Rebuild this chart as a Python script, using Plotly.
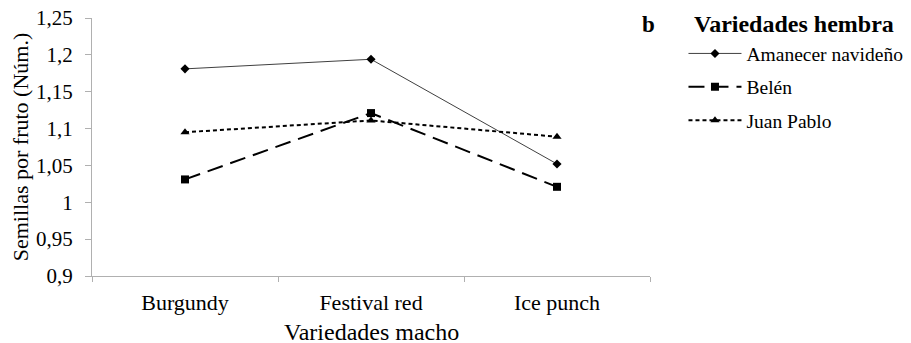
import plotly.graph_objects as go

categories = ["Burgundy", "Festival red", "Ice punch"]
amanecer = [1.181, 1.194, 1.052]
belen = [1.031, 1.121, 1.021]
juan_pablo = [1.095, 1.111, 1.089]
y_ticks = [0.9, 0.95, 1.0, 1.05, 1.1, 1.15, 1.2, 1.25]
y_tick_labels = ["0,9", "0,95", "1", "1,05", "1,1", "1,15", "1,2", "1,25"]

FONT = "Liberation Serif"
# the page body adds an 8px margin, so the figure is drawn 8px smaller and offset
W, H = 903, 335

fig = go.Figure()
fig.add_trace(go.Scatter(
    x=categories, y=amanecer, name="Amanecer navideño", mode="lines+markers",
    line=dict(color="#404040", width=1),
    marker=dict(symbol="diamond", size=7, color="black"),
    legendgroup="a"))
fig.add_trace(go.Scatter(
    x=categories, y=belen, name="Belén", mode="lines+markers",
    line=dict(color="black", width=2, dash="16px,8px"),
    marker=dict(symbol="square", size=8, color="black"),
    legendgroup="b"))
fig.add_trace(go.Scatter(
    x=categories, y=juan_pablo, name="Juan Pablo", mode="lines+markers",
    line=dict(color="black", width=2, dash="4px,3px"),
    marker=dict(symbol="triangle-up", size=8, color="black"),
    legendgroup="c"))

fig.update_layout(
    width=W, height=H,
    margin=dict(l=84, r=261, t=10, b=67, autoexpand=False),
    paper_bgcolor="white", plot_bgcolor="white",
    font=dict(family=FONT, color="black", size=20),
    showlegend=True,
    legend=dict(
        x=1.06, y=0.937, xanchor="left", yanchor="top",
        font=dict(family=FONT, size=19.5, color="black"),
        traceorder="grouped", tracegroupgap=5,
        itemwidth=53, bgcolor="rgba(0,0,0,0)",
    ),
    xaxis=dict(
        type="category", range=[-0.5, 2.5], automargin=False,
        showline=True, linecolor="#b0b0b0", linewidth=1,
        ticks="outside", tickson="boundaries", ticklen=5, tickcolor="#b0b0b0",
        showgrid=False, zeroline=False,
        tickfont=dict(family=FONT, size=22, color="black"),
        ticklabelstandoff=7,
    ),
    yaxis=dict(
        range=[0.9, 1.25], tickvals=y_ticks, ticktext=y_tick_labels, automargin=False,
        showline=True, linecolor="#b0b0b0", linewidth=1,
        ticks="outside", ticklen=6, tickcolor="#b0b0b0",
        showgrid=False, zeroline=False, ticklabeloverflow="allow",
        tickfont=dict(family=FONT, size=21, color="black"),
        ticklabelstandoff=8,
        title=dict(text="Semillas por fruto (Núm.)", font=dict(family=FONT, size=22, color="black"), standoff=4),
    ),
    annotations=[
        dict(text="Variedades macho", xref="paper", yref="paper", x=0.5, y=0.0,
             xanchor="center", yanchor="top", showarrow=False, yshift=-41,
             font=dict(family=FONT, size=24, color="black")),
        dict(text="<b>b</b>", xref="paper", yref="paper", x=1.0, y=1.0,
             xanchor="left", yanchor="middle", showarrow=False, xshift=-10, yshift=-6,
             font=dict(family=FONT, size=23, color="black")),
        dict(text="<b>Variedades hembra</b>", xref="paper", yref="paper", x=1.0, y=1.0,
             xanchor="left", yanchor="middle", showarrow=False, xshift=42, yshift=-6,
             font=dict(family=FONT, size=24, color="black")),
    ],
)

fig.write_html("out.html")
